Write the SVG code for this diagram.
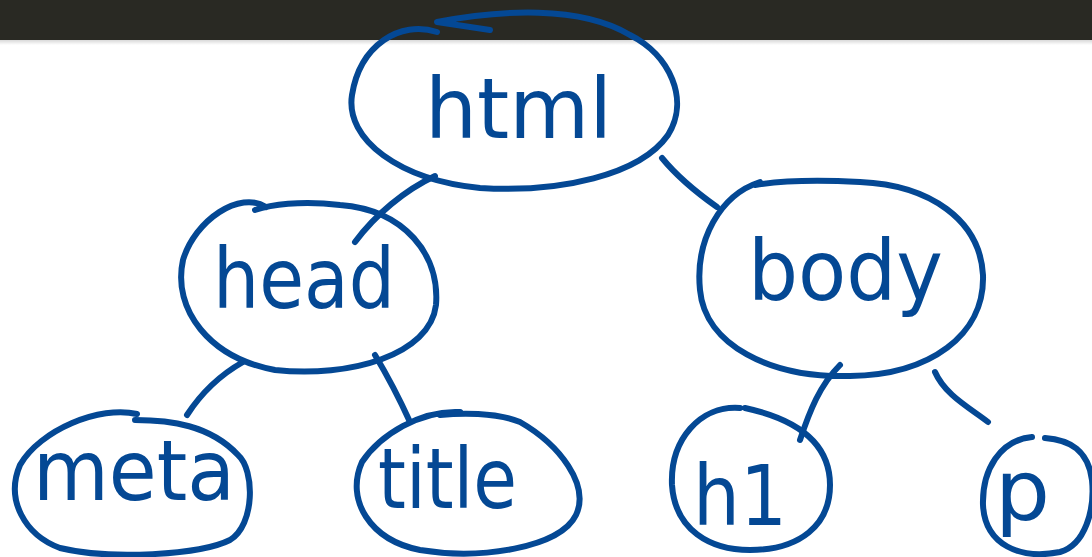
<svg xmlns="http://www.w3.org/2000/svg" width="1092" height="557" viewBox="0 0 1092 557">
<style>
.n{fill:none;stroke:#044894;stroke-width:6;stroke-linecap:round;stroke-linejoin:round}
.c{fill:none;stroke:#044894;stroke-width:6;stroke-linecap:round}
.t{fill:#044894;font-family:"DejaVu Sans",sans-serif;font-size:84px}
</style>
<defs>
<linearGradient id="sh" x1="0" y1="0" x2="0" y2="1">
<stop offset="0" stop-color="#000" stop-opacity="0.15"/>
<stop offset="1" stop-color="#000" stop-opacity="0"/>
</linearGradient>
</defs>
<rect width="1092" height="557" fill="#ffffff"/>
<rect width="1092" height="40" fill="#292923"/>
<rect y="40" width="1092" height="5" fill="url(#sh)"/>
<g id="connectors">
<path class="c" d="M435,176 C405,190 375,215 355,242"/>
<path class="c" d="M662,158 C680,180 700,195 717,207"/>
<path class="c" d="M243,362 C220,375 200,395 187,415"/>
<path class="c" d="M375,355 C390,380 400,400 410,422"/>
<path class="c" d="M840,365 C820,385 810,410 800,440"/>
<path class="c" d="M935,372 C945,395 970,408 988,422"/>
</g>
<g id="html">
<path class="n" d="M437,32 C400,20 360,45 352,95 C345,140 400,180 480,188 C560,193 640,175 668,135 C690,100 670,55 630,35 C580,5 500,10 437,22 L490,30"/>
<text class="t" x="425" y="138" textLength="187" lengthAdjust="spacingAndGlyphs">html</text>
</g>
<g id="head">
<path class="n" d="M266,207 C240,190 195,220 183,260 C172,310 210,358 275,370 C350,378 430,355 436,305 C440,255 405,210 340,205 C300,200 270,205 255,210"/>
<text class="t" x="213" y="308" textLength="182" lengthAdjust="spacingAndGlyphs">head</text>
</g>
<g id="body">
<path class="n" d="M760,182 C720,195 695,240 700,290 C705,345 770,378 850,376 C930,375 985,335 983,275 C980,220 930,185 860,182 C820,180 785,180 755,185"/>
<text class="t" x="748" y="300" textLength="195" lengthAdjust="spacingAndGlyphs">body</text>
</g>
<g id="meta">
<path class="n" d="M137,414 C100,405 40,430 20,465 C5,500 25,535 60,548 C110,560 200,555 230,540 C255,525 255,470 238,455 C210,425 170,420 135,420"/>
<text class="t" x="33" y="500" textLength="202" lengthAdjust="spacingAndGlyphs">meta</text>
</g>
<g id="title">
<path class="n" d="M460,412 C420,410 380,435 362,462 C345,500 370,540 420,550 C480,560 560,548 576,515 C590,485 560,445 520,422 C495,412 460,413 440,415"/>
<text class="t" x="378" y="508" textLength="139" lengthAdjust="spacingAndGlyphs">title</text>
</g>
<g id="h1">
<path class="n" d="M740,408 C700,405 670,440 672,485 C675,530 710,550 750,550 C800,550 830,525 830,485 C830,445 800,420 745,408"/>
<text class="t" x="693" y="525" textLength="94" lengthAdjust="spacingAndGlyphs">h1</text>
</g>
<g id="p">
<path class="n" d="M1032,437 C1000,440 982,470 983,505 C985,545 1020,560 1060,552 C1085,545 1095,510 1092,480 C1088,450 1070,440 1045,438"/>
<text class="t" x="995" y="520" textLength="55" lengthAdjust="spacingAndGlyphs">p</text>
</g>
</svg>
